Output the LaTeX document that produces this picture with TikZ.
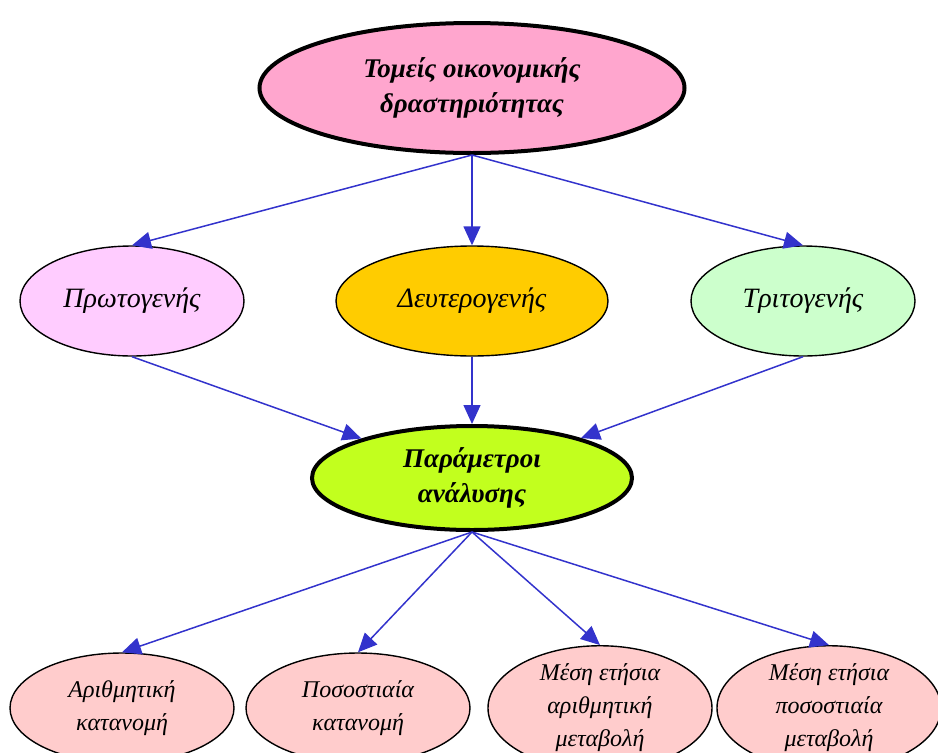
\documentclass[tikz,border=0pt]{standalone}
\usepackage{fontspec}
\setmainfont{Liberation Serif}
\usetikzlibrary{arrows.meta, shapes.geometric}
\definecolor{topink}{RGB}{255,166,206}
\definecolor{primpink}{RGB}{255,204,255}
\definecolor{secgold}{RGB}{255,204,0}
\definecolor{tertgreen}{RGB}{204,255,204}
\definecolor{paramlime}{RGB}{194,255,30}
\definecolor{measpink}{RGB}{255,204,204}
\definecolor{arrowblue}{RGB}{51,51,204}

\begin{document}
\begin{tikzpicture}[
  x=1pt, y=-1pt,
  oval/.style={draw, ellipse, inner sep=0pt, line width=1.4pt, align=center, font=\itshape\fontsize{28}{34}\selectfont},
  bigoval/.style={oval, line width=4pt, font=\bfseries\itshape\fontsize{27}{35}\selectfont},
  smalloval/.style={oval, minimum width=224pt, minimum height=110pt, fill=measpink, font=\itshape\fontsize{24}{33}\selectfont},
  conn/.style={draw=arrowblue, line width=1.5pt, -{Triangle[length=19pt, width=17pt]}},
]
  \useasboundingbox (0,0) rectangle (938,753);

  % Nodes
  \node[bigoval, fill=topink, minimum width=425pt, minimum height=130pt] (sectors) at (472,88) {Τομείς οικονομικής\\δραστηριότητας};

  \node[oval, fill=primpink, minimum width=224pt, minimum height=110pt] (prim) at (132,301) {Πρωτογενής};
  \node[oval, fill=secgold, minimum width=272pt, minimum height=110pt] (sec) at (472,301) {Δευτερογενής};
  \node[oval, fill=tertgreen, minimum width=224pt, minimum height=110pt] (tert) at (803,301) {Τριτογενής};

  \node[bigoval, fill=paramlime, minimum width=320pt, minimum height=104pt] (param) at (472,478) {Παράμετροι\\ανάλυσης};

  \node[smalloval] (arith) at (122,708) {Αριθμητική\\κατανομή};
  \node[smalloval] (perc) at (358,708) {Ποσοστιαία\\κατανομή};
  \node[smalloval] (avgarith) at (600,708) {Μέση ετήσια\\αριθμητική\\μεταβολή};
  \node[smalloval] (avgperc) at (829,708) {Μέση ετήσια\\ποσοστιαία\\μεταβολή};

  % Edges
  \draw[conn] (sectors.south) -- (prim.north);
  \draw[conn] (sectors.south) -- (sec.north);
  \draw[conn] (sectors.south) -- (tert.north);
  \draw[conn] (prim.south) -- (param);
  \draw[conn] (sec.south) -- (param.north);
  \draw[conn] (tert.south) -- (param);
  \draw[conn] (param.south) -- (arith.north);
  \draw[conn] (param.south) -- (perc.north);
  \draw[conn] (param.south) -- (avgarith.north);
  \draw[conn] (param.south) -- (avgperc.north);
\end{tikzpicture}
\end{document}
